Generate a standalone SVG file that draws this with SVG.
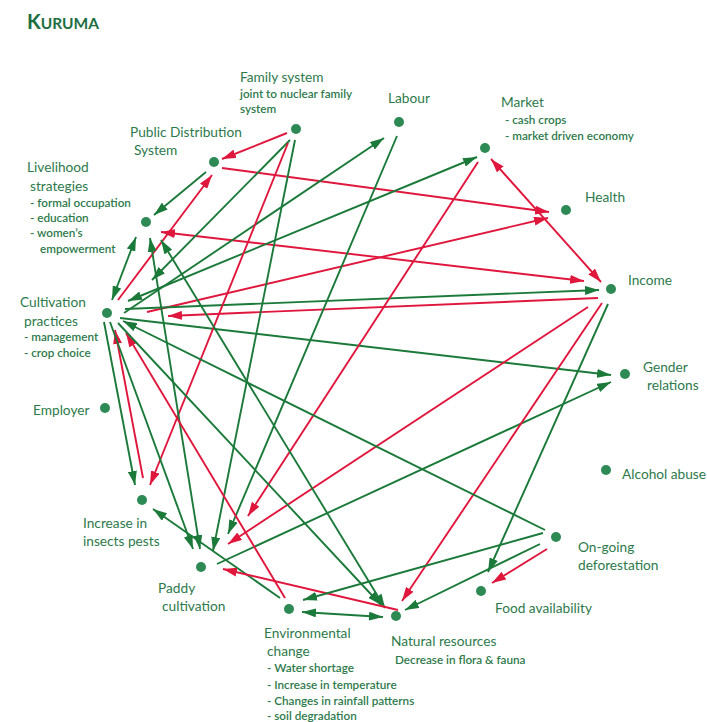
<svg xmlns="http://www.w3.org/2000/svg" width="707" height="722" viewBox="0 0 707 722">
<defs>
<style>
.g{stroke:#1b7a3a;stroke-width:1.9;fill:none}
.r{stroke:#e0173d;stroke-width:1.9;fill:none}
.g.e{marker-end:url(#ag)}
.r.e{marker-end:url(#ar)}
.g.b{marker-start:url(#ag);marker-end:url(#ag)}
.r.b{marker-start:url(#ar);marker-end:url(#ar)}
.dot{fill:#2e8a55}
text{font-family:Lato,"Open Sans","Liberation Sans",sans-serif;fill:#2d7a4b}
.t{font-size:13.7px}
.s{font-size:11.7px;font-weight:600}
</style>
<marker id="ag" viewBox="0 0 14 9" refX="14" refY="4.5" markerWidth="14" markerHeight="9" markerUnits="userSpaceOnUse" orient="auto-start-reverse"><path d="M0,0 L14,4.5 L0,9 z" fill="#1b7a3a"/></marker>
<marker id="ar" viewBox="0 0 14 9" refX="14" refY="4.5" markerWidth="14" markerHeight="9" markerUnits="userSpaceOnUse" orient="auto-start-reverse"><path d="M0,0 L14,4.5 L0,9 z" fill="#e0173d"/></marker>
</defs>
<rect width="707" height="722" fill="#ffffff"/>
<text x="27" y="29" style="font-weight:700;fill:#1d6f42"><tspan font-size="20">K</tspan><tspan font-size="15.5">URUMA</tspan></text>

<g id="connectors">
<line class="r e" x1="287" y1="133" x2="222" y2="159"/>
<line class="g e" x1="206" y1="172" x2="154" y2="215"/>
<line class="r e" x1="118" y1="300" x2="212" y2="175"/>
<line class="r e" x1="222" y1="168" x2="549" y2="212"/>
<line class="r b" x1="161" y1="232" x2="584" y2="281"/>
<line class="r b" x1="491" y1="159" x2="601" y2="282"/>
<line class="r e" x1="147" y1="312" x2="548" y2="218"/>
<line class="g e" x1="125" y1="309" x2="599" y2="290"/>
<line class="r e" x1="598" y1="298" x2="168" y2="316"/>
<line class="g e" x1="120" y1="318" x2="611" y2="375"/>
<line class="g e" x1="217" y1="564" x2="611" y2="382"/>
<line class="r e" x1="602" y1="303" x2="402" y2="601"/>
<line class="r e" x1="588" y1="307" x2="228" y2="544"/>
<line class="g e" x1="608" y1="304" x2="488" y2="572"/>
<line class="g b" x1="128" y1="301" x2="477" y2="157"/>
<line class="g e" x1="124" y1="313" x2="384" y2="138"/>
<line class="g e" x1="290" y1="140" x2="152" y2="280"/>
<line class="r e" x1="288" y1="143" x2="150" y2="485"/>
<line class="g e" x1="295" y1="140" x2="213" y2="551"/>
<line class="g e" x1="397" y1="136" x2="228" y2="534"/>
<line class="r e" x1="478" y1="162" x2="248" y2="516"/>
<line class="g b" x1="150" y1="238" x2="200" y2="549"/>
<line class="g b" x1="161" y1="240" x2="385" y2="608"/>
<line class="g b" x1="136" y1="237" x2="112" y2="300"/>
<line class="g e" x1="104" y1="322" x2="135" y2="485"/>
<line class="r e" x1="143" y1="478" x2="115" y2="330"/>
<line class="r e" x1="285" y1="598" x2="126" y2="333"/>
<line class="g e" x1="110" y1="322" x2="193" y2="549"/>
<line class="g e" x1="118" y1="323" x2="381" y2="605"/>
<line class="g e" x1="545" y1="530" x2="123" y2="321"/>
<line class="g e" x1="280" y1="598" x2="153" y2="509"/>
<line class="r e" x1="398" y1="610" x2="223" y2="569"/>
<line class="g e" x1="543" y1="533" x2="303" y2="600"/>
<line class="g e" x1="540" y1="544" x2="405" y2="610"/>
<line class="r e" x1="547" y1="549" x2="492" y2="583"/>
<line class="g b" x1="302" y1="612" x2="383" y2="617"/>
</g>

<g id="family"><circle class="dot" cx="296" cy="129" r="5"/><text class="t" x="240" y="82">Family system</text><text class="s" x="240" y="98">joint to nuclear family</text><text class="s" x="240" y="113">system</text></g>
<g id="labour"><circle class="dot" cx="399" cy="122" r="5"/><text class="t" x="388" y="103">Labour</text></g>
<g id="market"><circle class="dot" cx="485" cy="148" r="5"/><text class="t" x="501" y="107">Market</text><text class="s" x="505" y="124">- cash crops</text><text class="s" x="505" y="140">- market driven economy</text></g>
<g id="health"><circle class="dot" cx="566" cy="210" r="5"/><text class="t" x="585" y="202">Health</text></g>
<g id="income"><circle class="dot" cx="611" cy="289" r="5"/><text class="t" x="628" y="285">Income</text></g>
<g id="gender"><circle class="dot" cx="625" cy="374" r="5"/><text class="t" x="643" y="372">Gender</text><text class="t" x="647" y="390">relations</text></g>
<g id="alcohol"><circle class="dot" cx="606" cy="470" r="5"/><text class="t" x="622" y="479">Alcohol abuse</text></g>
<g id="deforestation"><circle class="dot" cx="556" cy="537" r="5"/><text class="t" x="578" y="552">On-going</text><text class="t" x="578" y="570">deforestation</text></g>
<g id="food"><circle class="dot" cx="481" cy="591" r="5"/><text class="t" x="495" y="613">Food availability</text></g>
<g id="natural"><circle class="dot" cx="396" cy="616" r="5"/><text class="t" x="391" y="646">Natural resources</text><text class="s" x="395" y="664">Decrease in flora &amp; fauna</text></g>
<g id="environmental"><circle class="dot" cx="289" cy="609" r="5"/><text class="t" x="264" y="638">Environmental</text><text class="t" x="267" y="656">change</text><text class="s" x="267" y="672">- Water shortage</text><text class="s" x="267" y="689">- Increase in temperature</text><text class="s" x="267" y="705">- Changes in rainfall patterns</text><text class="s" x="267" y="720">- soil degradation</text></g>
<g id="paddy"><circle class="dot" cx="201" cy="567" r="5"/><text class="t" x="158" y="593">Paddy</text><text class="t" x="162" y="611">cultivation</text></g>
<g id="pests"><circle class="dot" cx="142" cy="500" r="5"/><text class="t" x="83" y="528">Increase in</text><text class="t" x="83" y="546">insects pests</text></g>
<g id="employer"><circle class="dot" cx="105" cy="408" r="5"/><text class="t" x="33" y="415">Employer</text></g>
<g id="cultivation"><circle class="dot" cx="107" cy="313" r="5"/><text class="t" x="20" y="307">Cultivation</text><text class="t" x="24" y="326">practices</text><text class="s" x="24" y="341">- management</text><text class="s" x="24" y="357">- crop choice</text></g>
<g id="livelihood"><circle class="dot" cx="146" cy="222" r="5"/><text class="t" x="27" y="172">Livelihood</text><text class="t" x="30" y="191">strategies</text><text class="s" x="30" y="207">- formal occupation</text><text class="s" x="30" y="222">- education</text><text class="s" x="30" y="237">- women’s</text><text class="s" x="40" y="253">empowerment</text></g>
<g id="pds"><circle class="dot" cx="214" cy="162" r="5"/><text class="t" x="130" y="137">Public Distribution</text><text class="t" x="134" y="155">System</text></g>
</svg>
